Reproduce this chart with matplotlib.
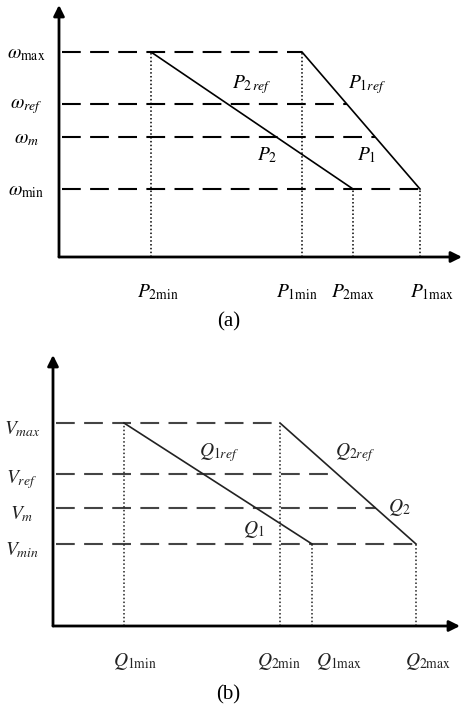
import matplotlib
matplotlib.use("Agg")
import matplotlib.pyplot as plt
import numpy as np

plt.rcParams['mathtext.fontset'] = 'stix'
plt.rcParams['font.family'] = ['Liberation Serif', 'DejaVu Serif']

# ---------------- data (panel a: frequency droop) ----------------
p_ticks_a = [92, 243, 294, 361]            # P2min, P1min, P2max, P1max
p_labels_a = [r'$P_{2\mathrm{min}}$', r'$P_{1\mathrm{min}}$', r'$P_{2\mathrm{max}}$', r'$P_{1\mathrm{max}}$']
w_levels = [205, 153, 120, 68]             # w_max, w_ref, w_m, w_min
w_labels = [r'$\omega_{\mathrm{max}}$', r'$\omega_{ref}$', r'$\omega_{m}$', r'$\omega_{\mathrm{min}}$']
P2_line = ([92, 294], [205, 68])
P1_line = ([243, 361], [205, 68])

# ---------------- data (panel b: voltage droop) ----------------
q_ticks_b = [71, 227, 259, 363]            # Q1min, Q2min, Q1max, Q2max
q_labels_b = [r'$Q_{1\mathrm{min}}$', r'$Q_{2\mathrm{min}}$', r'$Q_{1\mathrm{max}}$', r'$Q_{2\mathrm{max}}$']
v_levels = [203, 152, 118, 82]             # V_max, V_ref, V_m, V_min
v_labels = [r'$V_{max}$', r'$V_{ref}$', r'$V_{m}$', r'$V_{min}$']
Q1_line = ([71, 259], [203, 82])
Q2_line = ([227, 363], [203, 82])

# label x-offsets (layout only)
p_lab_dx = [7, -5, 0, 12]
q_lab_dx = [11, -1, 27, 12]

W, H = 462, 709
fig = plt.figure(figsize=(W / 100, H / 100), dpi=100)


def make_ax(ox, oy, w, h):
    ax = fig.add_axes([ox / W, (H - oy) / H, w / W, h / H])
    ax.set_xlim(0, w)
    ax.set_ylim(0, h)
    ax.axis('off')
    return ax


def draw_panel(ax, w, h, levels, ylabels, ticks, xlabels, lab_dx, left_line, right_line,
               color, dashcolor, ylab_dx, ylab_dy):
    ap = dict(arrowstyle='-|>', lw=2.0, color='k', mutation_scale=16,
              shrinkA=0, shrinkB=0)
    ax.annotate('', xy=(w, 0), xytext=(0, 0), arrowprops=ap, annotation_clip=False)
    ax.annotate('', xy=(0, h), xytext=(0, 0), arrowprops=ap, annotation_clip=False)

    # dashed horizontal levels, ending on the right droop line
    rx, ry = right_line
    for lv in levels:
        xend = np.interp(lv, ry[::-1], rx[::-1])
        ln, = ax.plot([3, xend], [lv, lv], color=dashcolor, lw=1.5, clip_on=False)
        ln.set_dashes((9, 4.5))

    # dotted vertical lines
    tops = [left_line[1][0], right_line[1][0], left_line[1][1], right_line[1][1]]
    xs = [left_line[0][0], right_line[0][0], left_line[0][1], right_line[0][1]]
    for x, t in zip(xs, tops):
        ax.plot([x, x], [0, t], color=color, lw=1.1, ls=(0, (1, 1.5)), clip_on=False)

    # droop lines
    ax.plot(*left_line, color=color, lw=1.2, clip_on=False)
    ax.plot(*right_line, color=color, lw=1.2, clip_on=False)

    for lv, lab in zip(levels, ylabels):
        ax.text(ylab_dx, lv + ylab_dy, lab, ha='center', va='center', fontsize=14,
                color=color)
    for x, lab, dx in zip(ticks, xlabels, lab_dx):
        ax.text(x + dx, -35, lab, ha='center', va='center', fontsize=14, color=color)


# panel (a)
axa = make_ax(59, 257, 403, 252)
draw_panel(axa, 403, 252, w_levels, w_labels, p_ticks_a, p_labels_a, p_lab_dx,
           P2_line, P1_line, 'black', 'black', -33, -3)
axa.text(193, 172, r'$P_{2\,ref}$', fontsize=14, ha='center', va='center')
axa.text(308, 172, r'$P_{1ref}$', fontsize=14, ha='center', va='center')
axa.text(208, 102, r'$P_{2}$', fontsize=14, ha='center', va='center')
axa.text(308, 102, r'$P_{1}$', fontsize=14, ha='center', va='center')
axa.text(170, -65, '(a)', fontsize=15, ha='center', va='center')

# panel (b)
axb = make_ax(53, 626, 407, 271)
draw_panel(axb, 407, 271, v_levels, v_labels, q_ticks_b, q_labels_b, q_lab_dx,
           Q1_line, Q2_line, '#222222', '#444444', -31, -6)
axb.text(166, 173, r'$Q_{1ref}$', fontsize=14, ha='center', va='center', color='#222222')
axb.text(302, 173, r'$Q_{2ref}$', fontsize=14, ha='center', va='center', color='#222222')
axb.text(346, 118, r'$Q_{2}$', fontsize=14, ha='center', va='center', color='#222222')
axb.text(201, 97, r'$Q_{1}$', fontsize=14, ha='center', va='center', color='#222222')
axb.text(175, -69, '(b)', fontsize=15, ha='center', va='center')

fig.savefig('out.png', dpi=100)
